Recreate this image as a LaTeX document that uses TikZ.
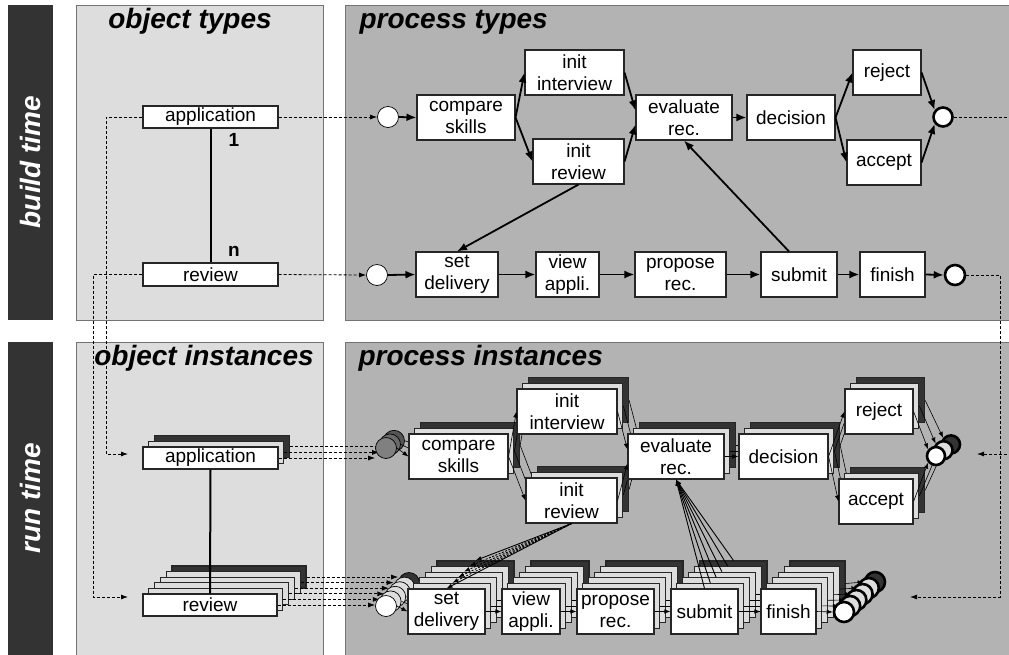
\documentclass[tikz,border=0pt]{standalone}
\usepackage{fontspec}
\newfontfamily\lsans{Liberation Sans}
\usetikzlibrary{arrows.meta,calc}
\definecolor{dk}{HTML}{333333}
\definecolor{lt}{HTML}{DDDDDD}
\definecolor{panelA}{HTML}{DDDDDD}
\definecolor{panelB}{HTML}{B3B3B3}
\definecolor{gA}{HTML}{808080}
\definecolor{gB}{HTML}{6A6A6A}
\definecolor{gC}{HTML}{555555}
\newcommand\boxfont{\lsans\fontsize{19}{22}\selectfont}
\newcommand\titlefont{\lsans\bfseries\itshape\fontsize{28}{32}\selectfont}
\tikzset{
  tbox/.style={draw=black!85, line width=1.1pt, inner sep=0pt, align=center, font=\boxfont},
  tarr/.style={-{Latex[length=10pt,width=8pt]}, line width=1.8pt},
  iarr/.style={-{Latex[length=6pt,width=4.5pt]}, line width=0.6pt},
  dasharr/.style={dash pattern=on 3pt off 2pt, line width=0.8pt, -{Latex[length=7pt,width=5pt]}},
  dline/.style={dash pattern=on 3pt off 2pt, line width=0.8pt},
  panel/.style={draw=black!55, line width=0.8pt},
  thincirc/.style={circle, draw=black, line width=0.7pt, inner sep=0pt},
  thickcirc/.style={circle, draw=black, line width=2.6pt, inner sep=0pt},
}
\newcommand\tb[6]{\node[tbox, fill=white, minimum width={(#4-#2)*1pt}, minimum height={(#5-#3)*1pt}] (#1) at ({(#2+#4)/2},{(#3+#5)/2}) {#6};}
\newcommand\lb[8]{%
 \ifnum#2<#3\relax
  \ifnum#2=0\relax
   \node[tbox, fill=white, minimum width={(#6-#4)*1pt}, minimum height={(#7-#5)*1pt}] (#1-#2) at ({(#4+#6)/2},{(#5+#7)/2}) {#8};%
  \else
   \ifnum#2=\numexpr#3-1\relax\def\stkfill{dk}\else\def\stkfill{lt}\fi
   \node[tbox, fill=\stkfill, minimum width={(#6-#4)*1pt}, minimum height={(#7-#5)*1pt}] (#1-#2) at ({(#4+#6)/2+#2*5.8},{(#5+#7)/2-#2*5.6}) {};%
  \fi
 \fi}
\newcommand\lc[9]{%
 \ifnum#2<#3\relax
  \ifnum#2=0\relax\let\cc\cF\else\ifnum#2=\numexpr#3-1\relax\let\cc\cB\else\let\cc\cM\fi\fi
  \node[#9, fill=\cc, minimum size=#8pt] (#1-#2) at ({#4+#2*#6},{#5+#2*#7}) {};%
 \fi}
\begin{document}
\begin{tikzpicture}[x=1pt,y=-1pt]
\useasboundingbox (0,0) rectangle (1009,654);
\clip (0,0) rectangle (1009,654);
% panels
\fill[dk] (8,5) rectangle (53,320);
\fill[dk] (8,342) rectangle (53,660);
\draw[panel, fill=panelA] (76,5) rectangle (323,320);
\draw[panel, fill=panelB] (345,5) rectangle (1015,320);
\draw[panel, fill=panelA] (76,342) rectangle (323,660);
\draw[panel, fill=panelB] (345,342) rectangle (1015,660);
\node[font=\titlefont] (t1) at (190,21) {object types};
\node[font=\titlefont, anchor=west] (t2) at (356,22) {process types};
\node[font=\titlefont] (t3) at (204,358) {object instances};
\node[font=\titlefont, anchor=west] (t4) at (355,358) {process instances};
\node[font=\titlefont, text=white, rotate=90] (s1) at (30,162) {build time};
\node[font=\titlefont, text=white, rotate=90] (s2) at (30,498) {run time};
% type level
\tb{tapp}{143}{106}{278}{128}{application}
\tb{trev}{143}{263}{278}{286}{review}
\tb{tcmp}{417}{95}{515}{140}{compare\\skills}
\tb{tii}{525}{50}{624}{95}{init\\interview}
\tb{tir}{533}{139}{624}{184}{init\\review}
\tb{tev}{636}{95}{732}{140}{evaluate\\rec.}
\tb{tdec}{747}{95}{835}{140}{decision}
\tb{trej}{853}{50}{921}{95}{reject}
\tb{tacc}{847}{140}{921}{185}{accept}
\tb{tsd}{416}{252}{498}{297}{set\\delivery}
\tb{tva}{536}{252}{599}{297}{view\\appli.}
\tb{tpr}{635}{252}{726}{297}{propose\\rec.}
\tb{tsub}{761}{252}{837}{297}{submit}
\tb{tfin}{860}{252}{925}{297}{finish}
\node[thincirc, fill=white, minimum size=21pt] (ts1) at (388,117) {};
\node[thickcirc, fill=white, minimum size=19pt] (te1) at (943,117) {};
\node[thincirc, fill=white, minimum size=21pt] (ts2) at (377,275) {};
\node[thickcirc, fill=white, minimum size=20pt] (te2) at (955,275) {};
\node[font=\lsans\bfseries\fontsize{19}{22}\selectfont] (one) at (234,140) {1};
\node[font=\lsans\bfseries\fontsize{19}{22}\selectfont] (en) at (234,251) {n};
\draw[line width=2pt] (tapp.south) -- (trev.north);
\draw[dasharr] (tapp.east) -- (ts1.west);
\draw[dasharr] (trev.east) -- (ts2.west);
\draw[tarr] (ts1.east) -- (tcmp.west);
\draw[tarr] (tcmp.east) -- (tii.west);
\draw[tarr] (tcmp.east) -- (tir.west);
\draw[tarr] (tii.east) -- ($(tev.west)+(0,-7)$);
\draw[tarr] (tir.east) -- ($(tev.west)+(0,7)$);
\draw[tarr] (tev.east) -- (tdec.west);
\draw[tarr] (tdec.east) -- (trej.west);
\draw[tarr] (tdec.east) -- (tacc.west);
\draw[tarr] (trej.east) -- (te1.140);
\draw[tarr] (tacc.east) -- (te1.220);
\draw[tarr] (tir.south) -- (tsd.north);
\draw[tarr] ($(tsub.north)+(-10,0)$) -- (tev.south);
\draw[tarr] (ts2.east) -- (tsd.west);
\draw[tarr] (tsd.east) -- (tva.west);
\draw[tarr] (tva.east) -- (tpr.west);
\draw[tarr] (tpr.east) -- (tsub.west);
\draw[tarr] (tsub.east) -- (tfin.west);
\draw[tarr] (tfin.east) -- (te2.west);
% instance level, layered back to front
\foreach \k in {5,4,3,2,1,0}{
 \lb{iapp}{\k}{3}{143}{447}{278}{469}{application}
 \lb{irev}{\k}{6}{143}{594}{277}{616}{review}
 \def\cF{gA}\def\cM{gB}\def\cB{gC}
 \lc{isc}{\k}{3}{386}{448}{4}{(-3.6)}{21}{thincirc}
 \def\cF{white}\def\cM{lt}\def\cB{dk}
 \lc{ilsc}{\k}{6}{386}{606}{4.6}{(-4.6)}{21}{thincirc}
 \lc{iec}{\k}{3}{936}{456}{7.5}{(-5.8)}{18}{thickcirc}
 \lc{ilec}{\k}{6}{844}{612}{6.2}{(-6)}{20}{thickcirc}
 \lb{icmp}{\k}{3}{409}{434}{508}{479}{compare\\skills}
 \lb{iii}{\k}{3}{517}{389}{617}{434}{init\\interview}
 \lb{iir}{\k}{3}{526}{478}{617}{523}{init\\review}
 \lb{iev}{\k}{3}{628}{434}{724}{479}{evaluate\\rec.}
 \lb{idec}{\k}{3}{739}{434}{828}{479}{decision}
 \lb{irej}{\k}{3}{845}{389}{913}{434}{reject}
 \lb{iacc}{\k}{3}{839}{479}{913}{524}{accept}
 \lb{isd}{\k}{6}{408}{589}{485}{634}{set\\delivery}
 \lb{iva}{\k}{6}{502}{589}{560}{634}{view\\appli.}
 \lb{ipr}{\k}{6}{577}{589}{654}{634}{propose\\rec.}
 \lb{isub}{\k}{6}{671}{589}{738}{634}{submit}
 \lb{ifin}{\k}{6}{761}{589}{816}{634}{finish}
 \ifnum\k<3
  \draw[dasharr] (iapp-\k.east) -- (iapp-\k.east -| isc-\k.west);
  \draw[iarr] (isc-\k.east) -- (icmp-\k.west);
  \draw[iarr] (icmp-\k.east) -- (iii-\k.west);
  \draw[iarr] (icmp-\k.east) -- (iir-\k.west);
  \draw[iarr] (iii-\k.east) -- ($(iev-\k.west)+(0,-7)$);
  \draw[iarr] (iir-\k.east) -- ($(iev-\k.west)+(0,7)$);
  \draw[iarr] (iev-\k.east) -- (idec-\k.west);
  \draw[iarr] (idec-\k.east) -- (irej-\k.west);
  \draw[iarr] (idec-\k.east) -- (iacc-\k.west);
  \draw[iarr] (irej-\k.east) -- (iec-\k.140);
  \draw[iarr] (iacc-\k.east) -- (iec-\k.220);
 \fi
 \draw[dasharr] (irev-\k.east) -- (irev-\k.east -| ilsc-\k.west);
 \draw[iarr] (ilsc-\k.east) -- (isd-\k.west);
 \draw[iarr] (isd-\k.east) -- (iva-\k.west);
 \draw[iarr] (iva-\k.east) -- (ipr-\k.west);
 \draw[iarr] (ipr-\k.east) -- (isub-\k.west);
 \draw[iarr] (isub-\k.east) -- (ifin-\k.west);
 \draw[iarr] (ifin-\k.east) -- (ilec-\k.west);
}
% fans
\foreach \k in {0,5}{\draw[iarr, line width=0.9pt] (iir-0.south) -- (isd-\k.north);}
\foreach \k in {1,2,3,4}{\draw[iarr, line width=0.9pt, dash pattern=on 2pt off 1.5pt] (iir-0.south) -- (isd-\k.north);}
\foreach \k in {0,...,5}{\draw[iarr, line width=0.9pt] (isub-\k.north) -- (iev-0.south);}
\draw[line width=2pt] (iapp-0.south) -- (irev-0.north);
% type -> instance dashed links
\coordinate (appin) at (128,454);
\coordinate (revin) at (128,597);
\coordinate (rightA) at (1012,117);
\coordinate (rightB) at (1012,454);
\coordinate (iecin) at (977,454);
\coordinate (ilecin) at (910,597);
\draw[dasharr] (tapp.west) -- ++(-36,0) |- (appin);
\draw[dasharr] (trev.west) -- ++(-49,0) |- (revin);
\draw[dline] (te1.east) -- (rightA);
\draw[dasharr] (rightB) -- (iecin);
\draw[dasharr] (te2.east) -- ++(34,0) |- (ilecin);
\end{tikzpicture}
\end{document}
